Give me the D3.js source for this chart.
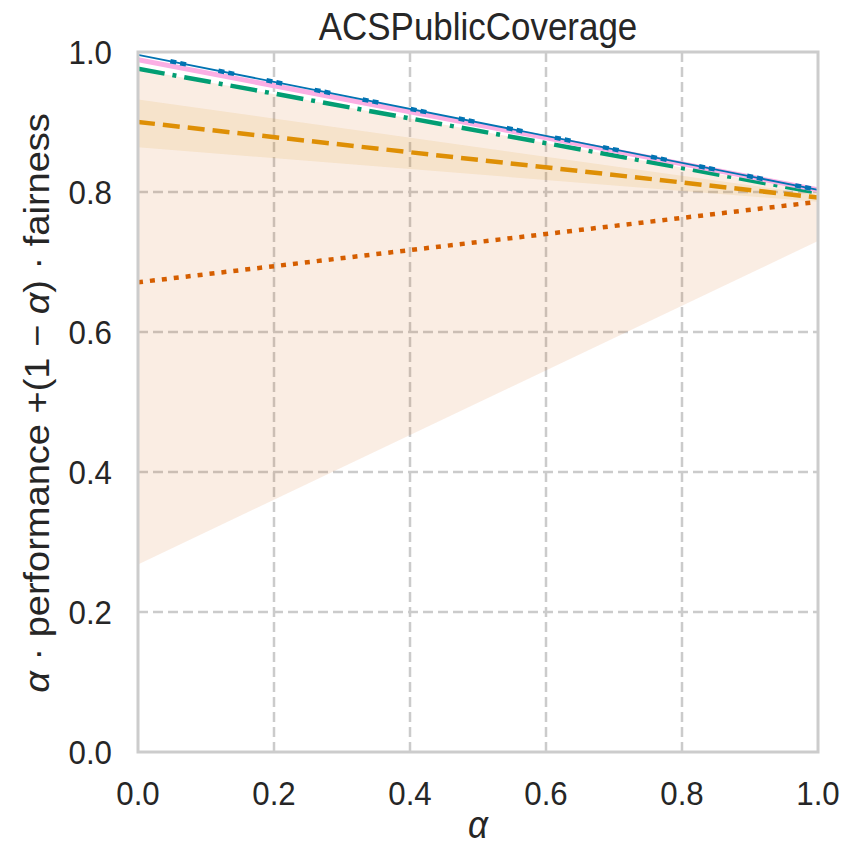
<!DOCTYPE html>
<html><head><meta charset="utf-8">
<script src="https://cdn.jsdelivr.net/npm/d3@7"></script>
<style>body{margin:0;background:#fff}svg{display:block}text{font-family:"Liberation Sans",Arial,sans-serif;fill:#262626}</style>
</head><body><svg id="c" width="845" height="850"></svg>
<script>
const alphas = [0, 1];
const xTicks = [0, 0.2, 0.4, 0.6, 0.8, 1.0];
const yTicks = [0, 0.2, 0.4, 0.6, 0.8, 1.0];
// series values at alpha = 0 and alpha = 1
const blueVals = [0.996, 0.803];
const pinkVals = [0.989, 0.803];
const greenVals = [0.976, 0.799];
const orangeVals = [0.900, 0.792];
const orangeLow = [0.864, 0.786];
const orangeHigh = [0.932, 0.796];
const redVals = [0.671, 0.786];
const redLow = [0.268, 0.730];
const redHigh = [0.975, 0.800];

const svg = d3.select("#c");
const L = 138, R = 818, T = 52, B = 752;
const x = d3.scaleLinear().domain([0, 1]).range([L, R]);
const y = d3.scaleLinear().domain([0, 1]).range([B, T]);
const SX = 0.92;

const g = svg.append("g");
svg.append("clipPath").attr("id", "clp").append("rect")
  .attr("x", L).attr("y", T).attr("width", R - L).attr("height", B - T);

// grid
g.selectAll(".gx").data(xTicks.slice(1, -1)).join("line")
  .attr("x1", d => x(d)).attr("x2", d => x(d)).attr("y1", T).attr("y2", B)
  .attr("stroke", "#cbcbcb").attr("stroke-width", 2.5).attr("stroke-dasharray", "10,5");
g.selectAll(".gy").data(yTicks.slice(1, -1)).join("line")
  .attr("y1", d => y(d)).attr("y2", d => y(d)).attr("x1", L).attr("x2", R)
  .attr("stroke", "#cbcbcb").attr("stroke-width", 2.5).attr("stroke-dasharray", "10,5");

const pl = svg.append("g").attr("clip-path", "url(#clp)");
const area = (lo, hi) => d3.area().x((d, i) => x(alphas[i])).y0((d, i) => y(lo[i])).y1((d, i) => y(hi[i]))(alphas);
const line = v => d3.line().x((d, i) => x(alphas[i])).y((d, i) => y(v[i]))(alphas);

pl.append("path").attr("d", area(redLow, redHigh)).attr("fill", "#d55e00").attr("fill-opacity", 0.11);
pl.append("path").attr("d", area(orangeLow, orangeHigh)).attr("fill", "#de8f05").attr("fill-opacity", 0.11);

pl.append("path").attr("d", line(redVals)).attr("fill", "none").attr("stroke", "#d55e00")
  .attr("stroke-width", 4.5).attr("stroke-dasharray", "5,7");
pl.append("path").attr("d", line(orangeVals)).attr("fill", "none").attr("stroke", "#de8f05")
  .attr("stroke-width", 4.5).attr("stroke-dasharray", "17,8");
pl.append("path").attr("d", line(greenVals)).attr("fill", "none").attr("stroke", "#029e73")
  .attr("stroke-width", 4.5).attr("stroke-dasharray", "27,8,4,8");
pl.append("path").attr("d", line(pinkVals)).attr("fill", "none").attr("stroke", "#fbafe4")
  .attr("stroke-width", 5);
pl.append("path").attr("d", line(blueVals)).attr("fill", "none").attr("stroke", "#0173b2")
  .attr("stroke-width", 1.8);
pl.append("path").attr("d", line(blueVals)).attr("fill", "none").attr("stroke", "#0173b2")
  .attr("stroke-width", 4.5).attr("stroke-dasharray", "0,33,6,4,6,0");

// frame
svg.append("rect").attr("x", L).attr("y", T).attr("width", R - L).attr("height", B - T)
  .attr("fill", "none").attr("stroke", "#cccccc").attr("stroke-width", 3);

// tick labels
svg.selectAll(".xt").data(xTicks).join("text")
  .attr("transform", d => `translate(${x(d)},805) scale(${SX},1)`).attr("text-anchor", "middle")
  .attr("font-size", 34).text(d => d.toFixed(1));
svg.selectAll(".yt").data(yTicks).join("text")
  .attr("transform", d => `translate(112,${y(d) + 12}) scale(${SX},1)`).attr("text-anchor", "end")
  .attr("font-size", 34).text(d => d.toFixed(1));

svg.append("text").attr("transform", `translate(478,40) scale(${SX},1)`).attr("text-anchor", "middle")
  .attr("font-size", 38).text("ACSPublicCoverage");
svg.append("text").attr("transform", `translate(478,838) scale(${SX},1)`).attr("text-anchor", "middle")
  .attr("font-size", 38).attr("font-style", "italic").text("α");
const yl = svg.append("text").attr("transform", `translate(49,403) scale(${SX},1) rotate(-90)`)
  .attr("text-anchor", "middle").attr("font-size", 38);
yl.append("tspan").attr("font-style", "italic").text("α");
yl.append("tspan").text(" · performance +(1 − ");
yl.append("tspan").attr("font-style", "italic").text("α");
yl.append("tspan").text(") · fairness");
</script></body></html>
